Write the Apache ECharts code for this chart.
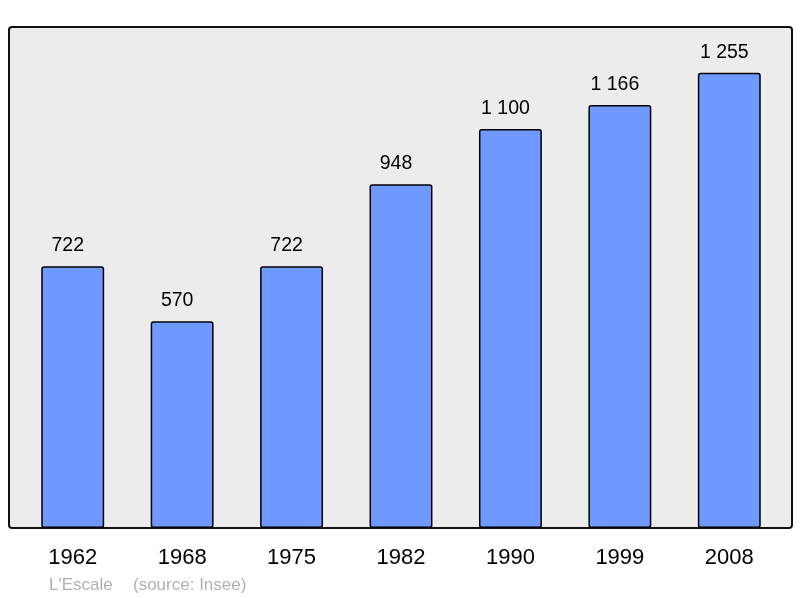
<!DOCTYPE html>
<html><head><meta charset="utf-8">
<script src="https://cdn.jsdelivr.net/npm/echarts@6/dist/echarts.min.js"></script>
<style>html,body{margin:0;padding:0;background:#fff}#c{width:800px;height:598px}</style>
</head><body><div id="c"></div>
<script>
var categories = ['1962','1968','1975','1982','1990','1999','2008'];
var population = [722, 570, 722, 948, 1100, 1166, 1255];
var footerName = "L'Escale";
var footerSource = "(source: Insee)";

function fmt(v){ return String(v).replace(/\B(?=(\d{3})+(?!\d))/g, ' '); }

var chart = echarts.init(document.getElementById('c'), null, {renderer:'canvas'});
chart.setOption({
  animation: false,
  textStyle: {fontFamily: 'Liberation Sans, Arial, sans-serif'},
  graphic: [
    {type:'rect', z:-10, shape:{x:9, y:27, width:783, height:501, r:3},
     style:{fill:'#ececec', stroke:'#111', lineWidth:2}},
    {type:'text', left:49, top:576.5,
     style:{text:footerName, fill:'#b0b0b0', font:'17px "Liberation Sans", Arial, sans-serif'}},
    {type:'text', left:133, top:576.5,
     style:{text:footerSource, fill:'#b0b0b0', font:'17px "Liberation Sans", Arial, sans-serif'}}
  ],
  grid: {left:18, right:16, top:27.5, bottom:70},
  xAxis: {
    type:'category', data:categories,
    axisLine:{show:false}, axisTick:{show:false},
    axisLabel:{color:'#000', fontSize:22, margin:18.5}
  },
  yAxis: {type:'value', min:0, max:1380, show:false, splitLine:{show:false}},
  series: [{
    type:'bar', data:population, barWidth:'57.5%',
    itemStyle:{color:'#7099ff', borderColor:'#000', borderWidth:1.5, borderRadius:2},
    label:{show:true, position:'top', distance:10.5, offset:[-5,0], color:'#000', fontSize:19.5,
      formatter:function(p){return fmt(p.value);}}
  }]
});
</script></body></html>
